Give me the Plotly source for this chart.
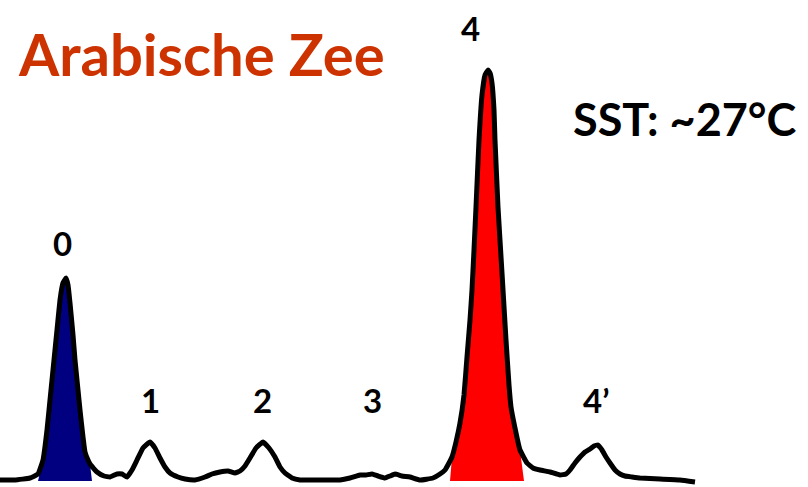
import plotly.graph_objects as go

# Chromatogram trace (retention position, signal height)
time = [0, 15, 30, 38, 43, 47, 50, 54, 57, 60, 63, 66, 68, 70, 73, 75, 78, 80, 83, 85, 88, 90,
        97, 104, 110, 117, 122, 127, 132, 137, 143, 150, 155, 160, 165, 170, 178, 185, 195, 205,
        212, 220, 228, 235, 240, 245, 250, 256, 263, 269, 275, 280, 285, 292, 300, 320, 340, 350,
        360, 366, 372, 378, 385, 390, 395, 402, 410, 420, 433, 440, 445, 449, 452, 456, 460, 464,
        467, 470, 472, 474, 476, 479, 482, 485, 488, 490, 492, 494, 495, 498, 502, 506, 509, 511,
        515, 520, 527, 533, 540, 550, 560, 566, 570, 575, 580, 585, 590, 594, 598, 602, 606, 610,
        615, 620, 625, 632, 640, 660, 680, 695]
signal = [7, 7, 9, 13, 27, 57, 87, 127, 157, 187, 204, 209, 202, 184, 152, 127, 97, 77, 50, 35, 27, 23,
          15, 11, 10, 13, 13, 10, 17, 27, 39, 45, 39, 29, 20, 14, 10, 8, 7, 10,
          13, 15, 16, 14, 16, 21, 29, 39, 45, 39, 30, 20, 14, 9, 7, 7, 7, 9,
          12, 12, 13, 11, 9, 11, 13, 11, 10, 7, 9, 13, 17, 24, 30, 45, 64, 92,
          130, 167, 197, 237, 280, 347, 392, 412, 417, 414, 404, 377, 347, 280, 214, 147, 102, 80,
          59, 37, 24, 19, 17, 15, 12, 13, 17, 24, 30, 35, 38, 41, 42, 37, 30, 24,
          17, 13, 11, 10, 9, 8, 7, 5]

# Shaded peaks: (start, end)
peak0_range = [38, 92]
peak4_range = [450, 524]
baseline_level = 6

labels = ["0", "1", "2", "3", "4", "4\u2019"]
label_x = [62, 150, 262, 372, 470, 596]
label_y = [244, 87, 87, 87, 459, 87]

title_text = "Arabische Zee"
sst_text = "SST: ~27\u00b0C"

fig = go.Figure()


def fill_poly(rng, color):
    xs = [rng[0]] + [t for t in time if rng[0] < t < rng[1]] + [rng[1]]
    ys = [baseline_level] + [s for t, s in zip(time, signal) if rng[0] < t < rng[1]] + [baseline_level]
    fig.add_trace(go.Scatter(x=xs, y=ys, fill="toself", fillcolor=color, mode="lines",
                             line=dict(width=0, color=color), hoverinfo="skip", showlegend=False))


fill_poly(peak0_range, "#000080")
fill_poly(peak4_range, "#FF0000")

fig.add_trace(go.Scatter(x=time, y=signal, mode="lines",
                         line=dict(color="black", width=5, shape="spline", smoothing=0.3),
                         showlegend=False, hoverinfo="skip"))

for t, lx, ly in zip(labels, label_x, label_y):
    fig.add_annotation(x=lx, y=ly, text=t, showarrow=False, xanchor="center", yanchor="middle",
                       font=dict(family="Lato", size=33, color="black", weight="bold"))

fig.add_annotation(x=16, y=434, text=title_text, showarrow=False, xanchor="left", yanchor="middle",
                   font=dict(family="Lato", size=58, color="#CC3300", weight="bold"))
fig.add_annotation(x=799, y=368, text=sst_text, showarrow=False, xanchor="right", yanchor="middle",
                   font=dict(family="Lato", size=45, color="black", weight="bold"))

fig.update_layout(width=808, height=487, margin=dict(l=0, r=0, t=0, b=0),
                  paper_bgcolor="white", plot_bgcolor="white", hovermode=False)
fig.update_xaxes(range=[0, 808], visible=False, fixedrange=True)
fig.update_yaxes(range=[0, 487], visible=False, fixedrange=True)

fig.write_html("out.html", config={"displayModeBar": False},
               post_script="document.body.style.margin='0px';document.body.style.overflow='hidden';")
